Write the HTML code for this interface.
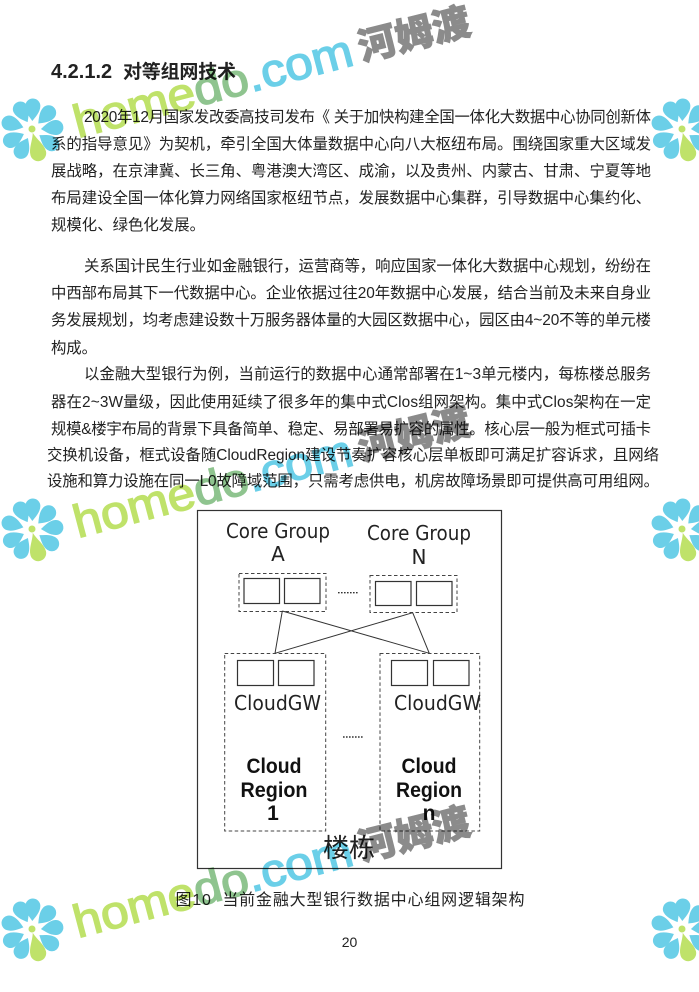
<!DOCTYPE html>
<html lang="zh">
<head>
<meta charset="utf-8">
<style>
html,body{margin:0;padding:0;background:#fff;width:699px;height:992px;overflow:hidden}
svg{display:block}
.b{font-family:"Liberation Sans","Noto Sans CJK SC",sans-serif;font-size:15.4px;fill:#222}
.d{font-family:"Liberation Sans","Noto Sans CJK SC",sans-serif;fill:#222}
.c{font-family:"DejaVu Sans",sans-serif;font-size:20px;fill:#222}
.r{font-size:21px;font-weight:bold;fill:#111}
.wm{font-family:"Liberation Sans",sans-serif;font-size:46px;stroke-width:1.4}
.wz{font-family:"Noto Sans CJK SC",sans-serif;font-size:38px;font-weight:900;fill:#8b8b8b;stroke:#8b8b8b;stroke-width:1}
.box{fill:none;stroke:#333;stroke-width:1.2}
.dash{fill:none;stroke:#444;stroke-width:1;stroke-dasharray:3.5 2.5}
#wm{mix-blend-mode:multiply}
</style>
</head>
<body>
<svg width="699" height="992" viewBox="0 0 699 992" xmlns="http://www.w3.org/2000/svg">
<defs>
<path id="p" d="M0,-9 C-3,-13 -7.5,-18 -7.5,-24 A7.5,7.5 0 1 1 7.5,-24 C7.5,-18 3,-13 0,-9Z" fill="#6bcfe8"/>
<g id="fl">
<use href="#p" transform="rotate(2)"/>
<use href="#p" transform="rotate(44)"/>
<use href="#p" transform="rotate(84)"/>
<use href="#p" transform="rotate(125)"/>
<use href="#p" transform="rotate(207)"/>
<use href="#p" transform="rotate(244)"/>
<use href="#p" transform="rotate(287)"/>
<use href="#p" transform="rotate(331)"/>
<path transform="rotate(165)" d="M0,-3 C-2,-10 -8,-17 -8,-24 A8,8 0 1 1 8,-24 C8,-17 2,-10 0,-3Z" fill="#bfe26a"/>
<circle cx="0" cy="-1" r="3.5" fill="#bfe26a"/>
</g>
</defs>

<text class="d" x="51" y="78" font-size="20" font-weight="bold" fill="#111">4.2.1.2</text>
<text class="d" x="123" y="78" font-size="19" font-weight="bold" fill="#111" textLength="113">对等组网技术</text>

<text class="b" x="84" y="122" textLength="567">2020年12月国家发改委高技司发布《 关于加快构建全国一体化大数据中心协同创新体</text>
<text class="b" x="51" y="149" textLength="600">系的指导意见》为契机&#xFF0C;牵引全国大体量数据中心向八大枢纽布局。围绕国家重大区域发</text>
<text class="b" x="51" y="176" textLength="600">展战略&#xFF0C;在京津冀、长三角、粤港澳大湾区、成渝&#xFF0C;以及贵州、内蒙古、甘肃、宁夏等地</text>
<text class="b" x="51" y="203" textLength="600">布局建设全国一体化算力网络国家枢纽节点&#xFF0C;发展数据中心集群&#xFF0C;引导数据中心集约化、</text>
<text class="b" x="51" y="230" textLength="154">规模化、绿色化发展。</text>

<text class="b" x="84" y="271" textLength="567">关系国计民生行业如金融银行&#xFF0C;运营商等&#xFF0C;响应国家一体化大数据中心规划&#xFF0C;纷纷在</text>
<text class="b" x="51" y="298" textLength="600">中西部布局其下一代数据中心。企业依据过往20年数据中心发展&#xFF0C;结合当前及未来自身业</text>
<text class="b" x="51" y="325" textLength="600">务发展规划&#xFF0C;均考虑建设数十万服务器体量的大园区数据中心&#xFF0C;园区由4~20不等的单元楼</text>
<text class="b" x="51" y="353" textLength="46">构成。</text>

<text class="b" x="84" y="379" textLength="567">以金融大型银行为例&#xFF0C;当前运行的数据中心通常部署在1~3单元楼内&#xFF0C;每栋楼总服务</text>
<text class="b" x="51" y="407" textLength="600">器在2~3W量级&#xFF0C;因此使用延续了很多年的集中式Clos组网架构。集中式Clos架构在一定</text>
<text class="b" x="51" y="434" textLength="600">规模&amp;楼宇布局的背景下具备简单、稳定、易部署易扩容的属性。核心层一般为框式可插卡</text>
<text class="b" x="47" y="460" textLength="612">交换机设备&#xFF0C;框式设备随CloudRegion建设节奏扩容核心层单板即可满足扩容诉求&#xFF0C;且网络</text>
<text class="b" x="47" y="486" textLength="612">设施和算力设施在同一L0故障域范围&#xFF0C;只需考虑供电&#xFF0C;机房故障场景即可提供高可用组网。</text>

<rect class="box" x="197.5" y="510.5" width="304" height="358"/>

<text class="c" x="226" y="538" textLength="104" lengthAdjust="spacingAndGlyphs">Core Group</text>
<text class="c" x="278" y="561" text-anchor="middle">A</text>
<text class="c" x="367" y="540" textLength="104" lengthAdjust="spacingAndGlyphs">Core Group</text>
<text class="c" x="419" y="564" text-anchor="middle">N</text>

<rect class="dash" x="239" y="573.5" width="87" height="38"/>
<rect class="box" x="244" y="578.5" width="35.5" height="25"/>
<rect class="box" x="284.5" y="578.5" width="35.5" height="25"/>
<rect class="dash" x="370" y="575.5" width="87" height="37"/>
<rect class="box" x="375.5" y="581.5" width="35.5" height="24"/>
<rect class="box" x="416.5" y="581.5" width="35.5" height="24"/>
<line x1="338" y1="592.7" x2="358" y2="592.7" stroke="#333" stroke-width="1.4" stroke-dasharray="1.6 1.4"/>

<path d="M282.3,611 L275,653.3 M282.3,611 L429.3,653.3 M412.7,612.7 L275,653.3 M412.7,612.7 L429.3,653.3" fill="none" stroke="#333" stroke-width="1"/>

<rect class="dash" x="224.7" y="653.5" width="101" height="177.5"/>
<rect class="dash" x="380" y="653.5" width="99.7" height="177.5"/>
<rect class="box" x="237.5" y="660.5" width="36" height="25"/>
<rect class="box" x="278.5" y="660.5" width="35.5" height="25"/>
<rect class="box" x="391.5" y="660.5" width="36" height="25"/>
<rect class="box" x="433.5" y="660.5" width="35.5" height="25"/>

<text class="c" x="234" y="710" textLength="87" lengthAdjust="spacingAndGlyphs">CloudGW</text>
<text class="c" x="394" y="710" textLength="87" lengthAdjust="spacingAndGlyphs">CloudGW</text>
<line x1="343" y1="737" x2="363" y2="737" stroke="#333" stroke-width="1.4" stroke-dasharray="1.6 1.4"/>

<text class="d r" x="246.5" y="773" textLength="55" lengthAdjust="spacingAndGlyphs">Cloud</text>
<text class="d r" x="240.5" y="797" textLength="67" lengthAdjust="spacingAndGlyphs">Region</text>
<text class="d r" x="273" y="820" text-anchor="middle">1</text>
<text class="d r" x="401.5" y="773" textLength="55" lengthAdjust="spacingAndGlyphs">Cloud</text>
<text class="d r" x="396" y="797" textLength="66" lengthAdjust="spacingAndGlyphs">Region</text>
<text class="d r" x="429" y="820" text-anchor="middle">n</text>

<text class="d" x="323" y="857" font-size="26" textLength="52" fill="#111">楼栋</text>

<text class="d" x="175.5" y="905" font-size="16" textLength="349" xml:space="preserve">图10  当前金融大型银行数据中心组网逻辑架构</text>
<text class="d" x="349.5" y="947" font-size="14" text-anchor="middle">20</text>

<g id="wm">
<use href="#fl" x="32" y="130"/><use href="#fl" x="682" y="130"/>
<use href="#fl" x="32" y="530"/><use href="#fl" x="682" y="530"/>
<use href="#fl" x="32" y="930"/><use href="#fl" x="682" y="930"/>

<text class="wm" transform="translate(78 138) rotate(-14.8) scale(1.08 1)"><tspan fill="#bfe26a" stroke="#bfe26a">home</tspan><tspan fill="#8fc48f" stroke="#8fc48f">do</tspan><tspan fill="#6bcfe8" stroke="#6bcfe8">.com</tspan></text>
<text class="wz" transform="translate(362 61) rotate(-14)">河姆渡</text>

<text class="wm" transform="translate(78 538) rotate(-14.8) scale(1.08 1)"><tspan fill="#bfe26a" stroke="#bfe26a">home</tspan><tspan fill="#8fc48f" stroke="#8fc48f">do</tspan><tspan fill="#6bcfe8" stroke="#6bcfe8">.com</tspan></text>
<text class="wz" transform="translate(362 461) rotate(-14)">河姆渡</text>

<text class="wm" transform="translate(78 938) rotate(-14.8) scale(1.08 1)"><tspan fill="#bfe26a" stroke="#bfe26a">home</tspan><tspan fill="#8fc48f" stroke="#8fc48f">do</tspan><tspan fill="#6bcfe8" stroke="#6bcfe8">.com</tspan></text>
<text class="wz" transform="translate(362 861) rotate(-14)">河姆渡</text>
</g>
</svg>
</body>
</html>
